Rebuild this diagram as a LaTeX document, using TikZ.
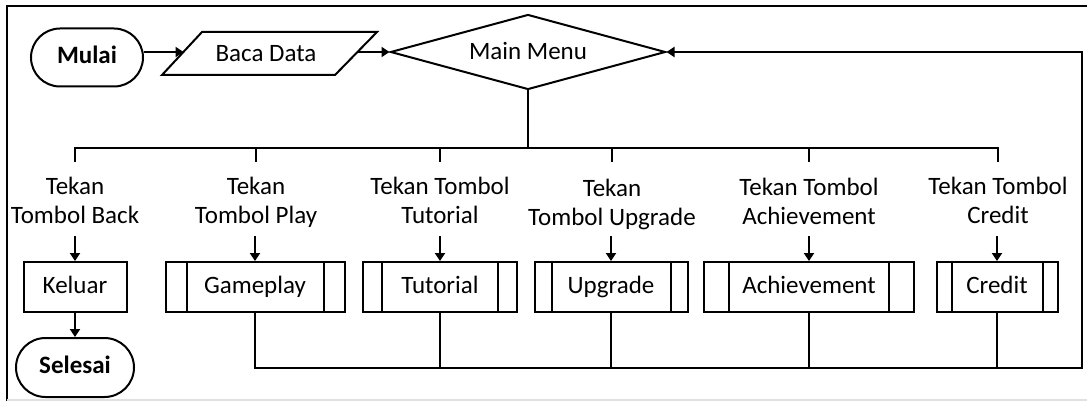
\documentclass[tikz,border=0pt]{standalone}
\usepackage{fontspec}
\setmainfont{Carlito}
\usetikzlibrary{arrows.meta,shapes.geometric,shapes.misc,calc}

\begin{document}
\begin{tikzpicture}[x=1pt,y=-1pt,
  every node/.style={font=\fontsize{25}{28.5}\selectfont, inner sep=0pt},
  conn/.style={line width=2pt, line join=miter},
  arr/.style={conn, -{Triangle[length=8pt,width=10pt]}},
  fixtext/.style={text height=17pt, text depth=5pt},
  terminal/.style={conn, draw, rounded rectangle, fixtext, font=\fontsize{25}{28}\selectfont\bfseries},
  proc/.style={conn, draw, rectangle, fixtext, minimum height=50pt},
  lab/.style={align=center, anchor=north},
]
\useasboundingbox (0,0) rectangle (1087,401);

% page frame
\draw[conn] (7,401) -- (7,6) -- (1087,6);
\draw[line width=1.5pt, black!12] (7,400) -- (1087,400);

% start, input and menu
\node[terminal, minimum width=112pt, minimum height=58pt] (mulai) at (87,57.5) {Mulai};
\node[fixtext] (baca) at (266,55.5) {Baca Data};
\draw[conn] ($(baca)+(-64,-23.5)$) -- ($(baca)+(111,-23.5)$)
  -- ($(baca)+(69,19.5)$) -- ($(baca)+(-104,19.5)$) -- cycle;
\coordinate (bacaL) at (183.5,52);
\coordinate (bacaR) at (357.5,52);
\node[conn, draw, diamond, aspect=3.67, text height=20pt, text depth=5pt,
      minimum width=275pt, minimum height=75pt] (menu) at (528,52) {Main Menu};

\draw[arr] (mulai.east |- menu.west) -- (bacaL);
\draw[arr] (bacaR) -- (menu.west);

% choice labels
\node[lab] (lb1) at (75,177)  {Tekan\\Tombol Back};
\node[lab] (lb2) at (256,177) {Tekan\\Tombol Play};
\node[lab] (lb3) at (440,177) {Tekan Tombol\\Tutorial};
\node[lab] (lb4) at (612,179) {Tekan\\Tombol Upgrade};
\node[lab] (lb5) at (809,178) {Tekan Tombol\\Achievement};
\node[lab] (lb6) at (998,177) {Tekan Tombol\\Credit};

% branch bus below the menu
\coordinate (busL) at (75,148);
\coordinate (b1) at (75,162);
\coordinate (b6) at (998,162);
\draw[conn] (menu.south) -- (menu.south |- busL);
\draw[conn] (b1) |- (b6 |- busL) -- (b6);
\foreach \n in {lb2,lb3,lb4,lb5}
  \draw[conn] (\n.north |- busL) -- ++(0,14);

% actions
\node[proc, minimum width=103pt] (keluar) at (75,287)  {Keluar};
\node[proc, minimum width=179pt] (game)   at (255,287) {Gameplay};
\node[proc, minimum width=154pt] (tut)    at (440,287) {Tutorial};
\node[proc, minimum width=153pt] (upg)    at (611,287) {Upgrade};
\node[proc, minimum width=210pt] (ach)    at (809,287) {Achievement};
\node[proc, minimum width=121pt] (cred)   at (997,287) {Credit};

% predefined-process side bars
\foreach \n/\d in {game/22,tut/20,upg/18,ach/26,cred/16} {
  \draw[conn] ([xshift=\d pt]\n.north west) -- ([xshift=\d pt]\n.south west);
  \draw[conn] ([xshift=-\d pt]\n.north east) -- ([xshift=-\d pt]\n.south east);
}

\foreach \n in {keluar,game,tut,upg,ach,cred}
  \draw[arr] ([yshift=25pt]\n.north) -- (\n.north);

% end
\node[terminal, minimum width=118pt, minimum height=59pt] (selesai) at (75,367.5) {Selesai};
\draw[arr] (keluar.south) -- (selesai.north);

% return to the menu
\coordinate (ret) at (1082,368);
\draw[arr] (game.south) |- (ret) |- (menu.east);
\foreach \n in {tut,upg,ach,cred}
  \draw[conn] (\n.south) -- (\n.south |- ret);
\end{tikzpicture}
\end{document}
